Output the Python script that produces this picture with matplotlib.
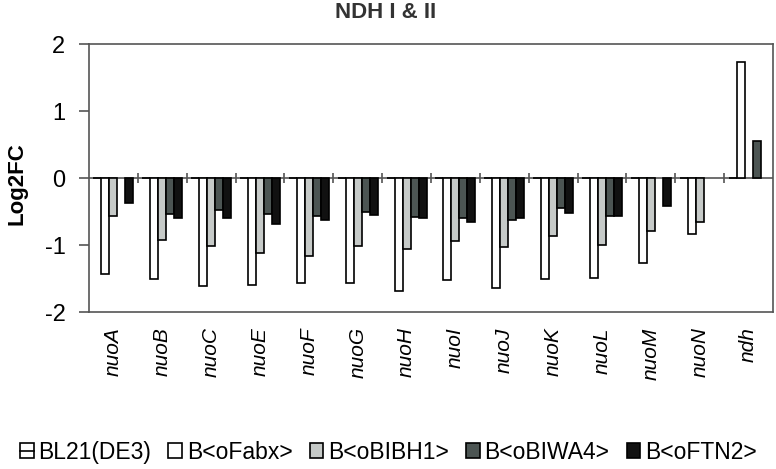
import numpy as np
import matplotlib.pyplot as plt
from matplotlib.patches import Patch
from matplotlib.lines import Line2D

plt.rcParams['font.family'] = ['Liberation Sans', 'DejaVu Sans']
plt.rcParams['axes.unicode_minus'] = False

genes = ['nuoA', 'nuoB', 'nuoC', 'nuoE', 'nuoF', 'nuoG', 'nuoH',
         'nuoI', 'nuoJ', 'nuoK', 'nuoL', 'nuoM', 'nuoN', 'ndh']
series_names = ['BL21(DE3)', 'B<oFabx>', 'B<oBIBH1>', 'B<oBIWA4>', 'B<oFTN2>']
nan = np.nan
bl21 = [0]*14
fabx = [-1.43, -1.50, -1.61, -1.59, -1.56, -1.56, -1.69,
        -1.52, -1.64, -1.50, -1.49, -1.27, -0.84, 1.73]
bibh1 = [-0.57, -0.93, -1.01, -1.12, -1.17, -1.01, -1.06,
         -0.94, -1.03, -0.87, -1.00, -0.79, -0.66, nan]
biwa4 = [nan, -0.53, -0.48, -0.54, -0.56, -0.51, -0.58,
         -0.59, -0.63, -0.45, -0.57, nan, nan, 0.55]
ftn2 = [-0.37, -0.59, -0.60, -0.68, -0.63, -0.55, -0.59,
        -0.65, -0.59, -0.52, -0.57, -0.42, nan, nan]
values = [bl21, fabx, bibh1, biwa4, ftn2]
colors = ['white', 'white', '#c6cac8', '#4c5553', '#111111']

fig = plt.figure(figsize=(7.76, 4.69), dpi=100)
ax = fig.add_axes([89/776, 1-312/469, 684/776, 268/469])

x = np.arange(len(genes))
w = 0.164
for i, (vals, c) in enumerate(zip(values, colors)):
    ax.bar(x + (i-2)*w, vals, w, color=c, edgecolor='black', linewidth=1.2, zorder=3)

spine_c = '#555555'
ax.set_xlim(-0.5, len(genes)-0.5)
ax.set_ylim(-2, 2)
ax.set_yticks([-2, -1, 0, 1, 2])
ax.tick_params(axis='y', direction='out', length=7, width=1.2, color=spine_c,
               labelsize=17, pad=10)
ax.set_xticks(x)
ax.set_xticklabels(genes, rotation=90, fontstyle='italic', fontsize=15)
ax.tick_params(axis='x', length=0, pad=11)
for s in ax.spines.values():
    s.set_color(spine_c)
    s.set_linewidth(1.2)

# zero line with category separators
ax.axhline(0, color=spine_c, lw=1.2, zorder=2)
ax.vlines(x[:-1] + 0.5, -0.07, 0.07, color=spine_c, lw=1.2, zorder=2)

fig.text(386/776, 1-13/469, 'NDH I & II', ha='center', va='center', fontsize=16,
         fontweight='bold', color='#333333')
fig.text(17/776, 1-184/469, 'Log2FC', ha='center', va='center', rotation=90,
         fontsize=16, fontweight='bold')

handles = [Patch(facecolor=c, edgecolor='black', linewidth=1.2) for c in colors]
handles[0] = (Patch(facecolor='white', edgecolor='black', linewidth=1.2),
              Line2D([], [], color='black', lw=1.2))
fig.legend(handles, series_names, loc='center left', bbox_to_anchor=(20/776, 1-452/469),
           ncol=5, frameon=False, fontsize=16.5,
           handlelength=0.6, handleheight=0.6, handletextpad=0.2,
           columnspacing=0.75, borderaxespad=0, borderpad=0)

fig.savefig('out.png', dpi=100)
